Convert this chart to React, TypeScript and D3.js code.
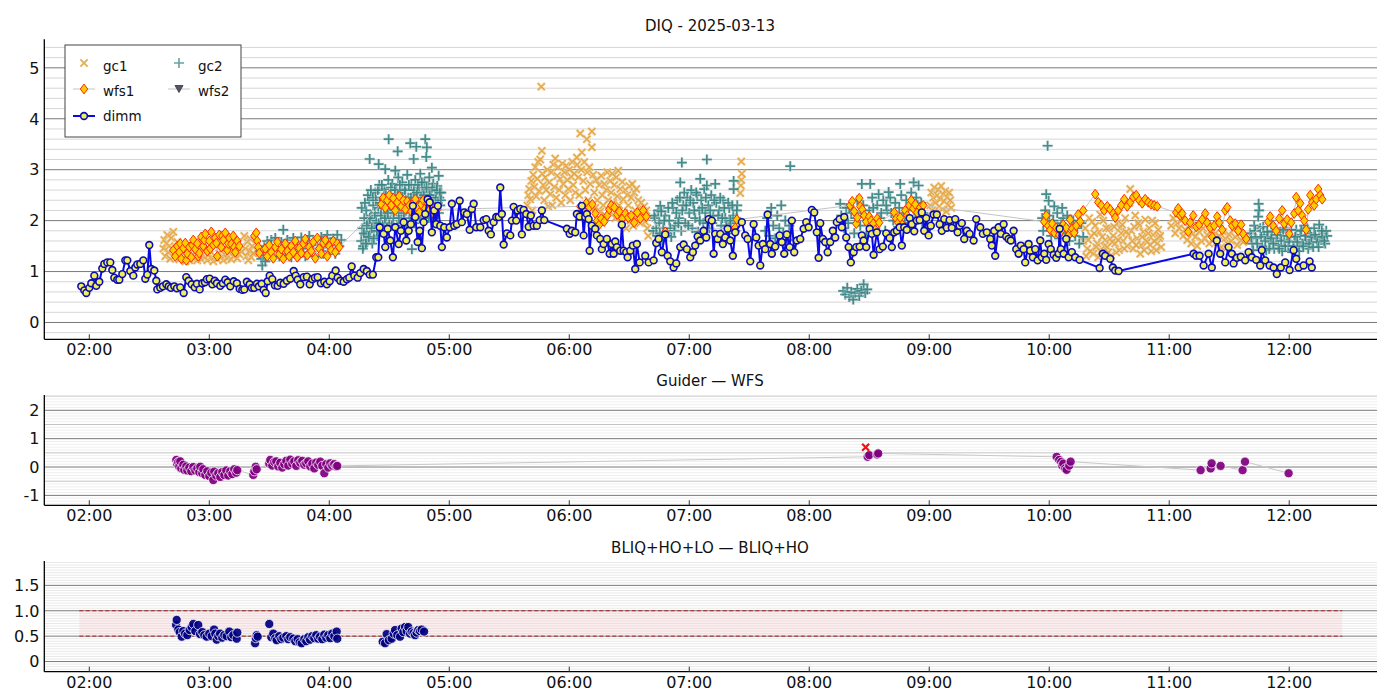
import React from 'react';
import * as d3 from 'd3';

// time values are minutes after 00:00 UT, values in arcsec
const hourTicks = [2, 3, 4, 5, 6, 7, 8, 9, 10, 11, 12];

const dimm: [number, number][] = [
[116,0.71],[117.5,0.63],[118.5,0.58],[120,0.68],[121,0.77],[122.5,0.92],[123.5,0.72],[125,0.80],[126.5,1.06],[127.5,1.15],[129,1.18],[130.5,1.18],[131.5,1.03],[132.5,0.88],[134,0.84],[135,0.84],[136.5,0.95],[138,1.22],[139,1.22],[140.5,1.01],[142,0.92],[143,1.08],[144,1.14],[145.5,1.15],[147,1.22],[148,0.86],[149,0.94],[150,1.52],[151,1.05],[152.5,1.02],[153.5,0.82],[154,0.65],[155.5,0.68],[156.8,0.71],[158.5,0.75],[159.7,0.71],[160.8,0.68],[162.5,0.71],[163.8,0.67],[165.5,0.69],[167.2,0.58],[168.5,0.89],[169.7,0.82],[171.2,0.75],[172.7,0.69],[173.8,0.76],[175.2,0.65],[176.5,0.77],[177.8,0.79],[178.8,0.85],[180.2,0.86],[181.5,0.75],[182.7,0.82],[183.8,0.77],[185.5,0.72],[186.8,0.77],[188,0.84],[189.2,0.79],[190.5,0.71],[192.2,0.81],[193.8,0.77],[195.2,0.66],[196.5,0.64],[197.5,0.65],[198.8,0.80],[200.2,0.75],[201.3,0.68],[202.5,0.68],[203.8,0.76],[204.8,0.71],[206.2,0.76],[207.2,0.64],[208.2,0.58],[209.2,0.81],[210.2,0.92],[211.5,0.85],[212.8,0.73],[214.2,0.72],[215.5,0.78],[217.2,0.76],[218.8,0.82],[220.5,0.86],[222.2,1.01],[223.2,0.92],[224.2,0.84],[225.5,0.75],[227.2,0.89],[228.8,0.90],[230.2,0.75],[231.5,0.85],[232.8,0.88],[234.2,0.89],[235.8,0.77],[237.5,0.80],[238.8,0.75],[240.2,0.81],[241.5,0.92],[243.2,1.02],[244.2,0.88],[245.5,0.82],[247.2,0.80],[248.8,0.85],[250,0.88],[251.2,1.10],[252.5,0.92],[254.2,0.88],[255.5,0.97],[257.2,1.05],[258.8,1.01],[260.2,0.94],[261.8,0.94],[263.5,1.28],[264.5,1.28],
[265.2,1.87],[267.2,1.74],[268,1.48],[269.2,1.84],[270.5,1.61],[271.8,1.28],[273,1.87],[274.7,1.54],[275.8,1.80],[277.2,1.97],[278.5,1.61],[279.7,1.80],[280.8,1.93],[281.8,2.29],[283,2.07],[284.2,1.58],[285.2,1.80],[286.3,1.46],[287.2,1.97],[288,2.13],[289.2,2.42],[290.2,2.36],[291.3,1.77],[292.5,2.20],[293.5,1.93],[294.3,2.29],[295.5,1.90],[296.3,1.48],[297.5,1.87],[298.8,1.67],[300.2,1.87],[301.3,2.33],[302.5,1.90],[303.8,1.93],[305.2,2.39],[306.3,1.97],[307.5,2.16],[308.8,2.13],[310.2,1.82],[311.3,2.23],[312.2,2.33],[313.5,1.87],[315.5,1.87],[317.2,2.01],[318.5,2.03],[319.7,1.80],[320.8,1.73],[322.2,1.97],[323.5,2.07],[324.7,2.07],[325.5,2.65],[326.3,2.13],[327.2,1.53],[328.8,1.75],[330.5,1.71],[331.3,2.00],[332.2,2.27],[333.5,2.00],[334.2,2.20],[335.5,2.23],[336.3,1.73],[337.2,2.21],[338.5,2.13],[339.7,1.88],[340.8,2.10],[342.2,1.90],[343.8,1.90],[345.2,2.01],[346.3,2.20],[347.5,2.01],[358.8,1.84],[360.2,1.74],[361.3,1.80],[363,1.77],[363.8,2.13],[365.2,2.08],[366.3,2.29],[367.2,1.71],[368,2.07],[368.8,2.13],[369.7,2.03],[370.2,1.41],[371.3,1.90],[373,1.84],[373.8,1.71],[375.5,1.64],[376.3,1.44],[377.2,1.54],[378.8,1.64],[380.2,1.35],[381.3,1.54],[382.2,1.35],[383,1.59],[383.8,1.48],[385.5,1.41],[386.3,1.92],[387.2,1.41],[388.5,1.38],[389.2,1.28],[390.5,1.41],[391.8,1.51],[393,1.05],[393.8,1.54],[395.2,1.18],
[398,1.31],[399.7,1.18],[402.2,1.22],[403.5,1.56],[404.7,1.64],[406.3,1.38],[408,1.73],[409.2,1.31],[410.5,1.20],[412.2,1.08],[413.5,1.16],[415.5,1.48],[417.2,1.53],[418.8,1.44],[420.5,1.28],[421.8,1.38],[423,1.51],[424.2,1.69],[425.5,1.61],[427.2,1.80],[428.5,1.67],[429.7,2.03],[431.3,2.00],[432.2,1.35],[433,1.74],[434.2,1.64],[435.5,1.74],[436.8,1.54],[438,1.67],[439.2,1.84],[440.5,1.61],[441.8,1.31],[443,1.77],[446.3,1.97],[448,1.71],[449.2,1.64],[450.5,1.20],[452.2,1.93],[453.5,1.67],[454.7,1.51],[455.5,1.12],[456.8,1.54],[458,1.44],[459.2,2.12],[460.5,1.54],[461.3,1.35],[463,1.49],[465.2,1.71],[466.3,1.58],[467.5,1.35],[468.8,1.73],[470.2,1.48],[471.3,2.00],[472.5,1.38],[473.8,1.61],[475.5,1.64],[477.2,1.84],[478.5,1.97],[479.7,1.87],[481.3,2.21],[482.5,2.16],[483.8,1.77],[484.7,1.27],[485.5,1.95],[486.8,1.64],[488,1.58],[489.2,1.38],[490.5,1.58],[491.8,1.80],[493,1.67],[493.8,1.97],[495.2,2.03],[496.3,1.87],[497.5,2.07],[498.5,1.67],[499.7,1.48],[500.8,1.18],[502.2,1.38],[503.5,1.48],[505.2,1.49],[506.3,1.71],[507.2,1.61],[508.5,1.48],[510.2,1.84],[511.3,1.74],[512.2,1.33],[513.8,1.77],[515.2,1.44],[516.8,1.49],[518.5,1.75],[520.2,1.66],[521.3,1.48],[522.5,1.77],[523.8,1.80],[525.2,1.87],[526.3,1.51],[527.5,1.87],[528.8,1.82],[530.2,2.05],[531.3,1.93],[532.5,1.79],[533.8,2.00],[535.2,2.01],[536.3,2.16],[537.5,1.80],[538.5,2.05],[539.7,1.71],[540.8,1.90],[542.2,2.12],[543.8,2.12],[545.2,1.93],[546.3,1.80],[547.5,2.03],[548.8,1.86],[550.2,2.01],[551.3,1.86],[553,2.03],[554.2,1.77],[555.2,1.90],[556.3,1.95],[557.5,1.64],[558.8,1.80],[560.2,1.74],[562.2,1.61],[563.5,2.03],
[565.5,1.87],[566.8,1.74],[568.8,1.77],[570.5,1.64],[571.3,1.51],[572.5,1.80],[573,1.31],[574.7,1.87],[575.8,1.74],[577.2,1.93],[578.5,1.69],[579.7,1.64],[580.8,1.61],[582.2,1.80],[583.5,1.44],[584.7,1.35],[585.8,1.51],[587.2,1.44],[588,1.18],[589.7,1.54],[590.5,1.41],[591.8,1.28],[593,1.44],[594.2,1.22],[595.5,1.61],[596.3,1.28],[597.5,1.35],[598.5,1.23],[599.7,1.54],[600.8,1.44],[602.2,1.33],[603.5,1.27],[604.7,1.35],[605.2,1.84],[605.8,1.44],[607.2,1.35],[608.5,1.64],[609.7,1.28],[611.3,1.38],[613,1.28],[615.2,1.23],[625.2,1.07],[626.8,1.35],[628,1.31],[630.5,1.25],[631.8,1.08],[633,1.02],[634.7,1.01],
[672.2,1.35],[673.5,1.31],[675.2,1.31],[677.2,1.12],[679.7,1.35],[681.3,1.08],[683.8,1.61],[685.5,1.35],[688,1.18],[689.7,1.48],[691.3,1.35],[692.2,1.16],[693.8,1.27],[695.8,1.29],[698,1.22],[699.7,1.38],[701.3,1.28],[703.5,1.23],[705.5,1.12],[706.3,1.42],[708,1.22],[710.2,1.12],[712.2,1.08],[713.8,0.95],[715.8,1.08],[718,1.18],[720.2,1.03],[722.2,1.42],[723.5,1.25],[724.7,1.08],[727.2,1.12],[730.2,1.20],[731.3,1.08]
];

const wfs1: [number, number][] = [
[162,1.42],[163,1.30],[164,1.50],[165,1.38],[165.5,1.55],[166,1.25],[167,1.46],[168,1.56],[168.5,1.22],[169,1.35],[170,1.48],[171,1.28],[171.5,1.52],[172,1.62],[173,1.44],[174,1.55],[174.5,1.30],[175,1.36],[176,1.68],[177,1.50],[177.5,1.62],[178,1.74],[179,1.40],[180,1.60],[180.5,1.45],[181,1.78],[182,1.52],[183,1.66],[183.5,1.56],[184,1.30],[185,1.72],[186,1.48],[186.5,1.70],[187,1.62],[188,1.76],[189,1.42],[189.5,1.55],[190,1.66],[191,1.54],[192,1.70],[192.5,1.48],[193,1.38],[194,1.60],[195,1.50],
[202.5,1.70],[203.5,1.76],[204,1.60],[204.5,1.48],[205,1.36],
[208,1.45],[209,1.30],[210,1.52],[211,1.38],[212,1.26],[213,1.48],[214,1.58],[215,1.34],[216,1.44],[217,1.25],[218,1.55],[219,1.40],[220,1.30],[221,1.50],[222,1.38],[223,1.60],[224,1.28],[225,1.46],[226,1.36],[227,1.55],[228,1.64],[229,1.32],[230,1.48],[231,1.40],[232,1.58],[233,1.26],[234,1.66],[235,1.45],[236,1.35],[237,1.56],[238,1.62],[239,1.30],[240,1.50],[241,1.42],[242,1.60],[243,1.38],[244,1.55],[245,1.48],
[266,2.32],[267,2.45],[268,2.25],[269,2.40],[270,2.50],[271,2.30],[272,2.44],[273,2.20],[274,2.36],[275,2.48],[276,2.28],[277,2.40],[278,2.22],[279,2.38],[280,2.30],[281,2.18],[282,2.34],[283,2.42],[284,2.26],[285,2.16],[286,2.32],[287,2.40],[288,2.24],[289,2.35],[290,2.20],[291,2.30],[292,2.14],[293,2.26],[294,2.22],
[365.5,2.28],[367,2.20],[368.5,2.34],[370,2.26],[371.5,2.32],[373,2.14],[374,2.00],[375,1.92],[376,2.04],[377.5,1.98],[379,2.10],[380,2.22],[381,2.30],[382.5,2.26],[384,2.12],[385,2.18],[386.5,2.04],[388,2.14],[389.5,2.06],[391,2.10],[392.5,1.96],[394,2.16],[395.5,2.04],[397,2.20],[398.5,2.08],
[408,1.78],[443,1.86],[443.8,2.02],
[500.5,2.30],[501.5,2.38],[502.5,2.18],[503.5,1.94],[504,2.06],[505,2.44],[505.5,2.28],[506.5,2.22],[507.5,2.10],[508.5,1.98],[510,2.08],[511,2.00],[512,1.94],[513,1.82],[514,2.04],[515,1.96],
[522.5,2.16],[523.5,2.04],[524.5,1.96],[525.5,2.06],[526.5,1.92],[528,2.20],[529,2.10],[530,2.30],[531,2.40],[532,2.24],[533,2.32],[534,2.16],[535.5,2.26],[537,2.30],
[597.5,1.98],[598.5,2.10],[599.5,1.90],[600.5,1.82],[601.5,1.94],[602.5,1.76],[603.5,1.86],[605,1.72],[606,1.80],[607,1.92],[608.5,1.86],[609.5,1.70],[610.5,2.02],[611.5,1.84],[612.5,1.76],[613.5,1.90],[614.5,2.12],[615.5,1.98],[617,2.20],
[623,2.52],[624.5,2.36],[626,2.30],[627.5,2.20],[629,2.28],[630.5,2.22],[632,2.14],[633,2.06],[634.5,2.20],[636,2.30],[637.5,2.42],[639,2.28],[640.5,2.36],[642,2.46],[643.5,2.50],[645,2.40],[646.5,2.34],[648,2.42],[649.5,2.36],[651,2.32],[652.5,2.30],[654,2.28],
[663.5,2.16],[664.5,2.24],[665.5,2.10],[666.5,2.14],[668,2.00],[669.5,1.78],[670.5,1.96],[672,2.10],[673.5,1.88],[675,1.92],[676.5,2.02],[678,2.14],[679,1.96],[680.5,1.86],[681.5,1.68],[682.5,1.90],[684,2.08],[685,1.96],[686.5,1.82],[688,2.20],[689,2.26],[690.5,2.00],[691.5,1.90],[693,1.94],[694.5,1.80],[696,1.92],[697,1.74],[698.5,1.64],
[709.5,1.98],[710.5,2.08],[712,1.90],[713.5,1.80],[715,2.04],[716.5,2.20],[717.5,1.94],[719,2.02],[720,1.74],[721,1.96],[722.5,2.14],[723.5,2.46],[724.5,2.20],[725.5,2.34],[726.5,2.10],[727.5,2.00],[728.5,1.82],[729.5,2.22],[730.5,2.50],[731.5,2.36],[732.5,2.30],[733.5,2.42],[734.5,2.62],[735.5,2.50],[736.5,2.42]
];

const wfs2: [number, number][] = [];

const gc1: [number, number][] = [
[157,1.45],[157.5,1.62],[158,1.30],[158.5,1.55],[159,1.72],[159.5,1.38],[160,1.50],[160.5,1.25],[161,1.66],[161.5,1.44],[162,1.78],[163,1.32],[163.5,1.48],[164,1.58],[165,1.24],[166,1.40],[166.5,1.55],[167,1.28],[168,1.20],[169,1.34],[170,1.22],[170.5,1.45],[171,1.30],[172,1.26],[173,1.38],[174,1.22],[174.5,1.50],[175,1.32],[176,1.24],[177,1.40],[178,1.28],[178.5,1.46],[179,1.22],[180,1.34],[181,1.26],[182,1.20],[182.5,1.52],[183,1.30],[184,1.24],[185,1.36],[186,1.28],[186.5,1.44],[187,1.22],[188,1.32],[189,1.26],[190,1.38],[190.5,1.50],[191,1.24],[192,1.30],[193,1.44],[194,1.26],[194.5,1.56],[195,1.34],[196,1.40],
[197.5,1.70],[198,1.45],[198.5,1.30],[199,1.58],[199.5,1.22],[200,1.40],[200.5,1.64],[201,1.28],[201.5,1.50],[202,1.36],
[346,4.63],[346.3,3.37],[363.8,3.24],[365.5,3.71],[366.3,3.34],[368.8,3.60],[371.3,3.75],[371.3,3.44],
[339,2.30],[339.5,2.50],[340,2.62],[340.5,2.42],[341,2.78],[341.5,2.20],[342,2.90],[342.5,2.66],[343,3.05],[343.5,2.48],[344,2.82],[344.5,3.15],[345,2.58],[345.5,3.20],[346.5,2.92],[347,2.70],[347.5,2.40],[348,2.85],[348.5,2.60],[349,3.00],[349.5,2.28],[350,2.75],[350.5,2.52],[351,2.95],[351.5,2.30],[352,3.10],[352.5,2.66],[353,3.22],[353.5,2.45],[354,2.88],[354.5,3.05],[355,2.60],[355.5,2.82],[356,2.35],[356.5,3.12],[357,2.72],[357.5,2.95],[358,2.50],[358.5,3.08],[359,2.80],[359.5,2.62],[360,3.00],[360.5,2.40],[361,2.86],[361.5,3.15],[362,2.70],[362.5,2.92],[363,2.55],[364,3.10],[364.5,2.85],[365,2.50],[366,3.00],[367,2.78],[367.5,3.15],[368,2.60],[369,2.95],[369.5,2.40],[370,3.05],[370.5,2.72],[372,2.90],[372.5,2.55],[373,2.25],[373.5,2.80],[374,2.40],[375,2.70],[375.5,2.18],[376,2.88],[376.5,2.50],[377,2.30],[377.5,2.72],[378,2.10],[378.5,2.60],[379,2.95],[379.5,2.40],[380,2.20],[380.5,2.78],[381,2.55],[381.5,2.92],[382,2.35],[382.5,2.70],[383,2.05],[383.5,2.85],[384,2.48],[384.5,2.98],[385,2.30],[385.5,2.62],[386,1.95],[386.5,2.76],[387,2.42],[387.5,2.15],[388,2.60],[388.5,1.85],[389,2.50],[389.5,2.30],[390,2.68],[390.5,2.00],[391,2.45],[391.5,2.72],[392,1.90],[392.5,2.55],[393,2.20],[393.5,2.62],[394,2.10],[394.5,2.40],[395,2.25],[395.5,1.95],[396,2.35],[396.5,2.15],[397,2.05],[397.5,2.28],[398,1.98],[398.5,2.20],[399,1.85],[399.5,1.70],
[445.5,2.54],[445.8,2.69],[446,2.80],[446.3,2.92],[446,3.16],
[540.5,2.30],[541,2.55],[541.5,2.20],[542,2.45],[542.5,2.65],[543,2.35],[543.5,2.15],[544,2.50],[544.5,2.60],[545,2.28],[545.5,2.42],[546,2.68],[546.5,2.22],[547,2.52],[547.5,2.38],[548,2.58],[548.5,2.18],[549,2.46],[549.5,2.30],[550,2.55],[550.5,2.40],[551,2.25],
[617,1.60],[618,1.85],[618.5,1.30],[619,1.45],[620,2.05],[621,1.70],[621.5,1.98],[622,1.35],[623,1.90],[624,1.55],[624.5,1.28],[625,1.78],[625.5,2.12],[626,1.40],[627,2.00],[627.5,1.50],[628,1.62],[629,1.48],[630,1.85],[630.5,1.65],[631,1.32],[632,1.70],[633,1.55],[633.5,1.38],[634,1.95],[635,1.42],[635.5,1.85],[636,1.75],[636.5,1.92],[637,1.60],[638,2.05],[639,1.50],[639.5,1.72],[640,2.35],[640.5,2.62],[641,1.80],[642,1.45],[642.5,1.88],[643,2.10],[644,1.65],[645,1.90],[645.5,1.35],[646,1.52],[647,1.78],[648,2.02],[648.5,1.62],[649,1.58],[650,1.85],[651,1.40],[651.5,2.00],[652,1.72],[653,1.95],[654,1.55],[654.5,1.82],[655,1.66],[656,1.48],
[619.5,1.62],[620.5,1.40],[622.5,1.75],[623.5,1.48],[626.5,1.68],[628.5,1.85],[629.5,1.38],[631.5,1.58],[632.5,1.88],[634.5,1.62],[637.5,1.45],[638.5,1.78],[641.5,1.60],[643.5,1.52],[644.5,1.95],[646.5,1.68],[647.5,1.42],[649.5,1.75],[650.5,1.52],[652.5,1.60],[653.5,1.42],[655.5,1.70],
[661,1.90],[662,2.05],[663,1.75],[664,1.95],[665,1.85],[666,2.00],[667,1.70],[668,1.82],[669,1.62],[670,1.90],[671,1.55],[672,1.75],[673,1.68],[674,1.50],[675,1.78],[676,1.60],[677,1.85],[678,1.65],[679,1.72],[680,1.55],[681,1.80],[682,1.62],[683,1.75],[684,1.58],[685,1.70],[686,1.48],[687,1.78],[688,1.65],[689,1.55],[690,1.72],[691,1.60],[692,1.82],[693,1.68],[694,1.52],[695,1.75],[696,1.62],[697,1.58],[698,1.70],[699,1.65]
];

const gc2: [number, number][] = [
[205.5,1.40],[206,1.25],[206.5,1.12],[207,1.32],[207.5,1.50],[208,1.20],[209,1.60],[210,1.38],[211,1.62],[212,1.28],[213,1.66],[214,1.45],[215,1.30],[216,1.58],[217,1.82],[218,1.35],[219,1.62],[220,1.48],[221,1.28],[222,1.66],[223,1.40],[224,1.58],[225,1.32],[226,1.67],[227,1.45],[228,1.30],[229,1.60],[230,1.70],[231,1.38],[232,1.52],[233,1.30],[234,1.62],[235,1.45],[236,1.68],[237,1.35],[238,1.55],[239,1.72],[240,1.40],[241,1.58],[242,1.65],[243,1.35],[244,1.72],[245,1.50],[246,1.62],
[256,1.60],[256.5,1.85],[257,1.50],[257.5,2.05],[258,1.72],[258.5,2.20],[259,1.62],[259.5,1.95],[260,2.40],[260.5,1.78],[261,2.10],[261.5,1.55],[262,2.30],[262.5,1.88],[263,2.55],[263.5,2.00],[264,1.70],[264.5,2.25],[265,2.70],[265.5,1.92],[266,2.15],[266.5,2.45],[267,1.82],[267.5,2.62],[268.5,2.08],[269,2.35],[269.5,2.80],[270,1.95],[270.5,2.50],[271,2.20],[271.5,2.72],[272,2.05],[272.5,2.40],[273.5,2.60],[274,1.90],[274.5,2.85],[275,2.25],[275.5,2.55],[276,2.10],[276.5,2.75],[277,2.35],[277.5,1.98],[278,2.62],[278.5,2.20],[279,2.90],[279.5,2.45],[280,2.05],[281,2.70],[281.5,2.30],[282,2.52],[282.5,1.95],[283,2.80],[284,2.40],[284.5,2.15],[285,2.65],[285.5,2.92],[286,2.28],[286.5,2.55],[287,2.00],[287.5,2.75],[288.2,2.42],[289,2.20],[289.5,2.62],[290,2.85],[290.5,2.35],[291,2.50],[291.8,2.12],[292,2.72],[292.5,2.40],[293,2.58],[293.5,2.25],[294,2.68],[295,2.45],[295.5,2.30],[296,2.55],
[256.2,2.25],[256.8,1.45],[257.3,1.75],[257.8,2.35],[258.3,1.55],[258.8,1.90],[259.3,2.50],[259.8,1.68],[260.3,2.05],[260.8,2.60],[261.3,1.85],[261.8,2.45],[262.3,1.65],[262.8,2.15],[263.3,2.40],[263.8,1.80],[264.3,2.60],[264.8,1.95],[265.3,2.35],[265.8,2.10],[266.3,2.70],[266.8,1.90],[267.3,2.25],[267.8,2.05],[268.3,2.50],[268.8,1.85],[269.3,2.15],[270.3,2.30],[270.8,2.65],[271.3,1.90],[271.8,2.45],[272.3,2.15],[272.8,2.60],[273.3,1.85],[273.8,2.30],[274.3,2.50],[274.8,2.05],[275.3,2.70],[275.8,2.35],[276.3,1.95],[276.8,2.45],[277.3,2.15],[277.8,2.60],[278.3,2.40],[278.8,1.90],[279.3,2.25],[279.8,2.70],[280.3,2.20],[280.8,2.45],[281.8,2.05],[282.3,2.60],[282.8,2.35],[283.3,2.15],[283.8,2.55],[284.3,2.70],[284.8,2.30],[285.3,2.05],[285.8,2.45],[286.3,2.75],[286.8,2.20],[287.3,2.50],[287.8,2.10],[288.6,2.65],[289.3,2.35],[289.8,2.05],[290.3,2.50],[290.8,2.20],[291.5,2.65],[292.3,2.30],[292.8,2.05],[293.3,2.45],[293.8,2.60],[294.3,2.35],[294.8,2.15],[295.3,2.55],[295.8,2.40],
[260.2,3.21],[264.7,3.11],[268,3.01],[269.7,3.60],[273,2.98],[274.2,3.36],[280.5,3.52],[282.2,3.21],[283.5,3.45],[288,3.60],[288.5,3.25],[288.8,3.44],[291.3,3.04],[294.7,2.88],[281.3,1.44],
[402,1.80],[403,2.05],[404,1.70],[405,1.95],[406.5,1.62],[407,1.85],[408,2.10],[409,1.75],[410,2.00],[411,1.68],[412,2.25],[413,1.90],[414,2.40],[415,2.05],[416,1.80],[417,2.30],[417.5,2.55],[418,1.95],[419,2.45],[420,2.15],[421,2.60],[421.5,1.85],[422,2.35],[423,2.05],[424,2.50],[424.5,1.78],[425,2.20],[426,2.40],[427,1.95],[427.5,2.62],[428,2.15],[429.5,2.30],[430,1.85],[431,2.50],[432,2.10],[433.5,2.35],[434,1.70],[435,2.20],[436,1.90],[437,2.40],[438,2.05],[439,1.75],[440,2.25],[441,1.95],[442,2.10],[443,1.80],[444,2.30],
[402.5,2.10],[403.5,1.85],[404.5,2.20],[405.3,1.75],[407.5,2.00],[408.5,1.70],[409.5,2.25],[410.5,1.85],[411.5,2.35],[412.5,1.80],[413.5,2.15],[414.5,1.95],[415.3,2.45],[416.5,2.20],[418.5,2.30],[419.5,1.90],[420.5,2.40],[422.5,2.20],[423.5,2.55],[425.3,2.00],[426.5,2.25],[428.3,2.45],[429,1.95],[430.5,2.20],[431.5,1.95],[432.5,2.40],[434.5,2.10],[435.5,2.45],[436.5,2.05],[437.5,2.25],[438.5,1.90],[439.5,2.35],[440.5,2.00],[441.5,2.30],[443.5,2.05],
[416.3,3.14],[428.8,3.20],[415.5,2.75],[425.5,2.82],[428.8,2.69],[433,2.72],[442.2,2.78],[442.2,2.62],[443.8,2.20],[405.5,2.29],[406,2.18],
[458,1.80],[459,2.05],[460,1.70],[461,2.25],[462,1.90],[463,1.65],[464,2.10],[465,1.85],[466,2.30],[467,1.75],[468,2.00],[469,1.62],[470,1.90],[470.5,3.07],
[497,0.62],[498,0.55],[499,0.68],[500,0.50],[501,0.60],[502,0.45],[503,0.58],[504,0.66],[505,0.52],[506,0.62],[507.2,0.75],[508,0.58],[509,0.65],
[496,2.10],[497.5,1.85],[498.5,2.25],[499.5,1.95],[501,2.15],[502.5,1.75],[504,2.40],[505.5,1.90],[507,2.30],[508.5,1.70],[510,2.20],[511.5,2.45],[513,1.85],[514,2.30],[515.5,2.05],[517,2.40],[518,1.80],[519,2.20],[520.5,2.45],[522,2.00],[523,2.35],[524.5,1.88],[526,2.50],[527,2.15],[528.5,2.40],[530,1.95],[531,2.55],[532.5,2.20],[533.5,2.45],[535,2.05],[536,2.35],[537,2.15],
[497,2.00],[500,2.25],[503,2.05],[506,2.15],[509,2.00],[512,2.25],[516,2.15],[518.5,2.30],[521,2.15],[525,2.25],[527.8,1.95],[529.5,2.25],[533,2.00],[534.2,2.30],[536.5,1.95],
[506.3,2.72],[510.5,2.72],[514.7,2.52],[519.7,2.56],[525.5,2.72],[532.2,2.75],[534.7,2.69],[495.5,2.33],
[596.5,2.05],[597,1.80],[598,2.20],[599,1.95],[600,2.10],[601,1.70],[602,2.00],[602.5,2.28],[603,1.85],[604,2.15],[605,1.65],[606,1.95],[606.5,2.25],[607,2.05],[608,1.75],[609,2.10],[610,1.60],[611,1.90],[612,2.00],[613,1.70],[614,1.85],[615,1.55],[616,1.95],[617,1.68],
[599.2,3.47],[598.5,2.52],[599.7,2.39],
[700.5,1.75],[701.5,1.55],[702.5,1.90],[703.5,1.65],[705.5,1.85],[706.5,1.50],[707.5,1.72],[708.5,1.42],[709.5,1.68],[710.5,1.58],[711.5,1.80],[712.5,1.45],[713.5,1.65],[714.5,1.52],[715.5,1.78],[716.5,1.40],[717.5,1.62],[718.5,1.85],[719.5,1.50],[720.5,1.70],[721.5,1.38],[722.5,1.60],[723.5,1.82],[724.5,1.48],[725.5,1.72],[726.5,1.55],[727.5,1.90],[728.5,1.62],[729.5,1.45],[730.5,1.75],[731.5,1.58],[732.5,1.85],[733.5,1.65],[735,1.92],[736,1.62],[737,1.75],[738,1.55],[739,1.70],
[701,1.68],[702,1.42],[703,1.80],[704,1.55],[706,1.68],[707,1.88],[708,1.60],[709,1.78],[710,1.45],[711,1.65],[712,1.55],[713,1.85],[714,1.72],[715,1.45],[716,1.60],[717,1.82],[718,1.50],[719,1.70],[720,1.58],[721,1.82],[722,1.50],[723,1.68],[724,1.58],[725,1.40],[726,1.80],[727,1.50],[728,1.70],[729,1.85],[730,1.55],[731,1.68],[732,1.48],[733,1.72],[734,1.58],[736.5,1.68],[737.5,1.60],[738.5,1.80],
[704.7,2.33],[705,2.20],[704.5,2.08],[736.3,1.80],[734.7,1.48]
];

const guiderWfs: [number, number][] = [
[163.5,0.25],[164,0.10],[164.5,0.18],[165,0.02],[165.5,0.20],[166,-0.05],[167,0.08],[167.5,-0.10],[168.5,0.02],[169,-0.12],[170,-0.02],[171,-0.15],[172,0.00],[173,-0.12],[174,-0.05],[175,-0.18],[175.5,0.01],[176.5,-0.22],[177,-0.08],[178,-0.28],[179,-0.15],[180,-0.32],[181,-0.20],[182,-0.46],[182.5,-0.16],[183.5,-0.30],[184.5,-0.22],[185.5,-0.35],[186.5,-0.18],[187.5,-0.28],[188.5,-0.12],[189.5,-0.30],[190.5,-0.15],[191.5,-0.25],[192.5,-0.08],[193.5,-0.20],[194,-0.11],
[202,-0.28],[202.5,-0.15],[203.2,0.01],[203.7,-0.08],
[210,0.12],[210.5,0.25],[211.5,0.05],[212.5,0.18],[213.5,0.20],[214.5,0.02],[215.5,0.15],[216.5,-0.02],[217.5,0.10],[218.5,0.22],[219.5,0.05],[220.5,0.26],[221.5,0.12],[222.5,0.20],[223.5,0.04],[224.5,0.24],[225.5,0.15],[226.5,0.22],[227.5,0.08],[228.5,0.13],[229.5,0.20],[230.5,0.02],[231.5,0.12],[232.5,-0.05],[233.5,0.16],[234.5,0.08],[235.5,0.19],[236.5,0.04],[237.5,-0.22],[238.5,0.10],[239.5,-0.02],[240.5,0.13],[241.5,0.05],[242.5,0.10],[243.5,0.02],[244,0.04],
[509.2,0.36],[510,0.42],[514,0.44],[514.5,0.48],
[603.7,0.36],[605,0.25],[606,0.18],[606.5,0.05],[607,0.12],[608,-0.05],[608.7,-0.10],[610,0.05],[610.7,0.19],
[675.7,-0.11],[680.7,-0.05],[681.2,0.13],[685.7,0.04],[696.7,-0.11],[697.9,0.19],[719.7,-0.22]
];

const guiderFlag: [number, number][] = [[508.2, 0.70]];

const bliqHo: [number, number][] = [
[163.4,0.72],[163.7,0.82],[164.5,0.63],[165.2,0.58],[166.2,0.49],[167,0.60],[167.9,0.55],[169,0.52],[170.2,0.62],[171.2,0.68],[172,0.74],[173,0.60],[174.5,0.72],[175.4,0.54],[176.5,0.58],[177.5,0.52],[178.7,0.49],[180,0.55],[181.2,0.50],[182.4,0.63],[183,0.55],[183.7,0.43],[184.5,0.50],[185.4,0.55],[186.5,0.47],[187.5,0.52],[188.7,0.50],[190,0.59],[191,0.48],[192,0.52],[193.7,0.45],[194,0.57],
[202.9,0.36],[203.3,0.46],[203.7,0.52],[204.2,0.49],
[210,0.74],
[211,0.48],[212,0.55],[213,0.46],[213.7,0.42],[215,0.50],[216,0.44],[217,0.47],[218.5,0.50],[219.5,0.44],[220.5,0.48],[222,0.45],[223,0.40],[224.2,0.44],[225.2,0.38],[226.2,0.36],[227.5,0.44],[228.5,0.40],[229.5,0.48],[230.4,0.43],[231.5,0.50],[232.5,0.46],[233.5,0.52],[234.5,0.45],[235.4,0.49],[236.5,0.44],[237.5,0.53],[238.5,0.47],[239.5,0.52],[240.5,0.46],[241.5,0.55],[242.5,0.50],[243.7,0.59],[244,0.45],
[266.7,0.39],[267.9,0.36],[268.7,0.54],[269.8,0.42],[271.2,0.45],[272.2,0.55],[272.9,0.62],[274,0.52],[275.4,0.49],[276.2,0.65],[277,0.58],[277.9,0.68],[278.7,0.60],[279.5,0.68],[280.4,0.55],[281.2,0.59],[282.1,0.56],[282.9,0.52],[283.7,0.57],[284.5,0.62],[285.4,0.60],[286.2,0.63],[287.4,0.59]
];

const specBand = { lo: 0.5, hi: 1.0, t0: 115, t1: 746.5 };

const FONT = "'DejaVu Sans', 'Liberation Sans', sans-serif";
const X0 = 44.3, X1 = 1377;
const x = d3.scaleLinear().domain([97.5, 763.9]).range([X0, X1]);

const yTop = d3.scaleLinear().domain([-0.33, 5.56]).range([339.3, 39.3]);
const yMid = d3.scaleLinear().domain([-1.35, 2.54]).range([505.3, 395]);
const yBot = d3.scaleLinear().domain([-0.2, 1.98]).range([671.7, 561]);

function stepRange(a: number, b: number, s: number) {
  const out: number[] = [];
  const n = Math.round((b - a) / s);
  for (let i = 0; i <= n; i++) out.push(+(a + i * s).toFixed(4));
  return out;
}

function HLines({ vals, y, color, w = 1 }: { vals: number[]; y: d3.ScaleLinear<number, number>; color: string; w?: number }) {
  return (
    <g>
      {vals.map((v, i) => (
        <line key={i} x1={X0} x2={X1} y1={y(v)} y2={y(v)} stroke={color} strokeWidth={w} />
      ))}
    </g>
  );
}

function XAxis({ yPos }: { yPos: number }) {
  return (
    <g>
      <line x1={X0} x2={X1} y1={yPos} y2={yPos} stroke="#000" strokeWidth={1.3} />
      {hourTicks.map((h) => {
        const px = x(h * 60);
        return (
          <g key={h}>
            <line x1={px} x2={px} y1={yPos} y2={yPos - 5} stroke="#333" strokeWidth={1} />
            <text x={px} y={yPos + 15.8} textAnchor="middle" fontSize={16} fontFamily={FONT} fill="#111">
              {String(h).padStart(2, '0') + ':00'}
            </text>
          </g>
        );
      })}
    </g>
  );
}

function YLabels({ vals, y, fmt }: { vals: number[]; y: d3.ScaleLinear<number, number>; fmt: (v: number) => string }) {
  return (
    <g>
      {vals.map((v) => (
        <text key={v} x={39.5} y={y(v)} dy="0.36em" textAnchor="end" fontSize={16} fontFamily={FONT} fill="#111">
          {fmt(v)}
        </text>
      ))}
    </g>
  );
}

const xD = (cx: number, cy: number, s: number) =>
  `M${cx - s},${cy - s}L${cx + s},${cy + s}M${cx - s},${cy + s}L${cx + s},${cy - s}`;
const plusD = (cx: number, cy: number, s: number) =>
  `M${cx - s},${cy}H${cx + s}M${cx},${cy - s}V${cy + s}`;
const diamondD = (cx: number, cy: number, w: number, h: number) =>
  `M${cx},${cy - h}L${cx + w},${cy}L${cx},${cy + h}L${cx - w},${cy}Z`;

function HaloMarks({ pts, kind, color, halo }: { pts: [number, number][]; kind: 'x' | 'plus'; color: string; halo: string }) {
  return (
    <g fill="none">
      {pts.map(([t, v], i) => {
        const d = kind === 'x' ? xD(x(t), yTop(v), 3.6) : plusD(x(t), yTop(v), 5);
        return (
          <g key={i}>
            <path d={d} stroke={halo} strokeWidth={3.4} opacity={0.55} />
            <path d={d} stroke={color} strokeWidth={1.7} opacity={0.85} />
          </g>
        );
      })}
    </g>
  );
}

export default function App() {
  const sortT = (a: [number, number][]) => [...a].sort((p, q) => p[0] - q[0]);
  const dimmLine = d3.line<[number, number]>().x((d) => x(d[0])).y((d) => yTop(d[1]));
  const wfsLine = d3.line<[number, number]>().x((d) => x(d[0])).y((d) => yTop(d[1]));
  const gwLine = d3.line<[number, number]>().x((d) => x(d[0])).y((d) => yMid(d[1]));

  const topMinor = stepRange(-0.2, 5.4, 0.2).filter((v) => Math.abs(v - Math.round(v)) > 0.01);
  const topMajor = [0, 1, 2, 3, 4, 5];
  const midFaint = stepRange(-1.3, 2.5, 0.1).filter((v) => Math.abs(v * 2 - Math.round(v * 2)) > 0.01);
  const midMinor = [-0.5, 0.5, 1.5, 2.5];
  const midMajor = [-1, 0, 1, 2];
  const botFaint = stepRange(-0.15, 1.95, 0.05).filter((v) => Math.abs(v * 2 - Math.round(v * 2)) > 0.01);
  const botMajor = [0, 0.5, 1.0, 1.5];

  const GC1 = '#e2a034', GC1H = '#f1dcc0';
  const GC2 = '#2c7b7b', GC2H = '#c4d8d8';

  return (
    <svg width={1400} height={700} style={{ position: 'absolute', left: 0, top: 0, background: '#fff' }}>
      <rect x={0} y={0} width={1400} height={700} fill="#fff" />

      {/* ---------- Panel 1 ---------- */}
      <text x={710} y={30.5} textAnchor="middle" fontSize={15} fontFamily={FONT} fill="#111">DIQ - 2025-03-13</text>
      <HLines vals={topMinor} y={yTop} color="#d6d6d6" />
      <HLines vals={topMajor} y={yTop} color="#7a7a7a" />
      <HaloMarks pts={gc1} kind="x" color={GC1} halo={GC1H} />
      <HaloMarks pts={gc2} kind="plus" color={GC2} halo={GC2H} />
      <path d={wfsLine(sortT(wfs1)) || ''} stroke="#c4c4c4" strokeWidth={1} fill="none" />
      {wfs1.map(([t, v], i) => (
        <path key={i} d={diamondD(x(t), yTop(v), 3.7, 4.9)} fill="#ffcc00" stroke="#ff2a00" strokeWidth={1} />
      ))}
      {wfs2.map(([t, v], i) => (
        <path key={'w2' + i} d={`M${x(t) - 4},${yTop(v) - 3}L${x(t) + 4},${yTop(v) - 3}L${x(t)},${yTop(v) + 4}Z`} fill="#555566" stroke="#333" />
      ))}
      <path d={dimmLine(dimm) || ''} stroke="#0a0ae6" strokeWidth={2} fill="none" />
      {dimm.map(([t, v], i) => (
        <circle key={i} cx={x(t)} cy={yTop(v)} r={3.4} fill="#efef5a" stroke="#0c0cb4" strokeWidth={1.6} />
      ))}
      <line x1={X0} x2={X0} y1={39.3} y2={339.3} stroke="#000" strokeWidth={1.3} />
      <XAxis yPos={339.3} />
      <YLabels vals={topMajor} y={yTop} fmt={(v) => String(v)} />

      {/* legend */}
      <g fontFamily={FONT} fontSize={13.5} fill="#111">
        <rect x={65} y={45} width={176} height={92} fill="#fff" stroke="#444" strokeWidth={1} />
        <path d={xD(84, 63, 3.6)} stroke={GC1} strokeWidth={1.8} opacity={0.85} />
        <text x={103} y={71}>gc1</text>
        <path d={plusD(179, 63, 5)} stroke={GC2} strokeWidth={1.6} opacity={0.7} />
        <text x={198} y={71}>gc2</text>
        <line x1={73} x2={95} y1={89} y2={89} stroke="#c4c4c4" strokeWidth={1} />
        <path d={diamondD(84, 89, 3.7, 4.9)} fill="#ffcc00" stroke="#ff2a00" strokeWidth={1} />
        <text x={103} y={96}>wfs1</text>
        <line x1={168} x2={190} y1={89} y2={89} stroke="#c4c4c4" strokeWidth={1} />
        <path d="M175,85.5L183,85.5L179,92.5Z" fill="#555566" stroke="#333" strokeWidth={0.8} />
        <text x={198} y={96}>wfs2</text>
        <line x1={73} x2={95} y1={116} y2={116} stroke="#0a0ae6" strokeWidth={2} />
        <circle cx={84} cy={116} r={3.4} fill="#efef5a" stroke="#0c0cb4" strokeWidth={1.6} />
        <text x={103} y={121}>dimm</text>
      </g>

      {/* ---------- Panel 2 ---------- */}
      <text x={710} y={386} textAnchor="middle" fontSize={15} fontFamily={FONT} fill="#111">Guider — WFS</text>
      <HLines vals={midFaint} y={yMid} color="#efefef" />
      <HLines vals={midMinor} y={yMid} color="#c4c4c4" />
      <HLines vals={midMajor} y={yMid} color="#7a7a7a" />
      <path d={gwLine(sortT(guiderWfs)) || ''} stroke="#c8c8c8" strokeWidth={1} fill="none" />
      {guiderWfs.map(([t, v], i) => (
        <circle key={i} cx={x(t)} cy={yMid(v)} r={4.6} fill="#800080" stroke="#fff" strokeWidth={0.8} opacity={0.92} />
      ))}
      <path d={guiderFlag.map(([t, v]) => xD(x(t), yMid(v), 3.5)).join('')} stroke="#ee1111" strokeWidth={2.2} fill="none" />
      <line x1={X0} x2={X0} y1={395} y2={505.3} stroke="#000" strokeWidth={1.3} />
      <XAxis yPos={505.3} />
      <YLabels vals={midMajor} y={yMid} fmt={(v) => String(v)} />

      {/* ---------- Panel 3 ---------- */}
      <text x={710} y={553} textAnchor="middle" fontSize={15} fontFamily={FONT} fill="#111">BLIQ+HO+LO — BLIQ+HO</text>
      <HLines vals={botFaint} y={yBot} color="#e9e9e9" />
      <HLines vals={botMajor} y={yBot} color="#7a7a7a" />
      <rect x={x(specBand.t0)} width={x(specBand.t1) - x(specBand.t0)} y={yBot(specBand.hi)} height={yBot(specBand.lo) - yBot(specBand.hi)} fill="#f7caca" opacity={0.33} />
      {[specBand.lo, specBand.hi].map((v) => (
        <line key={v} x1={x(specBand.t0)} x2={x(specBand.t1)} y1={yBot(v)} y2={yBot(v)} stroke="#a31f1f" strokeWidth={1} strokeDasharray="4,2.5" />
      ))}
      {bliqHo.map(([t, v], i) => (
        <circle key={i} cx={x(t)} cy={yBot(v)} r={4.6} fill="#000080" stroke="#fff" strokeWidth={0.8} opacity={0.92} />
      ))}
      <line x1={X0} x2={X0} y1={561} y2={671.7} stroke="#000" strokeWidth={1.3} />
      <XAxis yPos={671.7} />
      <YLabels vals={botMajor} y={yBot} fmt={(v) => (v === 0 ? '0' : v.toFixed(1))} />
    </svg>
  );
}
